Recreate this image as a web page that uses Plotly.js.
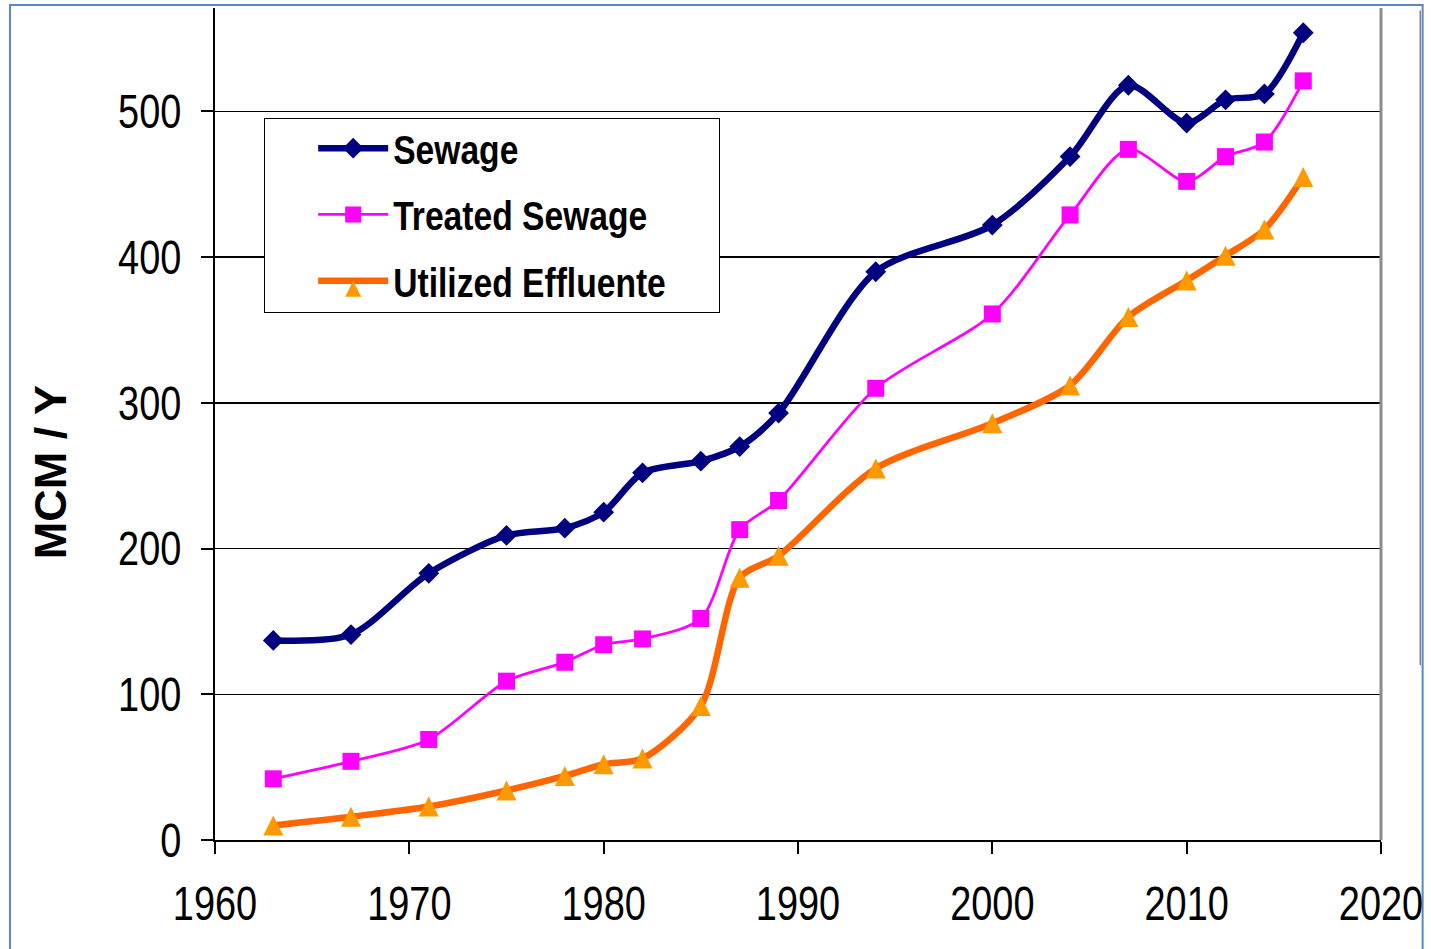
<!DOCTYPE html>
<html>
<head>
<meta charset="utf-8">
<script src="https://cdn.plot.ly/plotly-3.0.1.min.js"></script>
<style>
  html, body { margin: 0; padding: 0; background: #ffffff; }
  #chart { width: 1431px; height: 949px; }
</style>
</head>
<body>
<div id="chart"></div>
<script>
// Years of observation
const years = [1963, 1967, 1971, 1975, 1978, 1980, 1982, 1985, 1987, 1989, 1994, 2000, 2004, 2007, 2010, 2012, 2014, 2016];
// Sewage (MCM/Y)
const sewage = [137, 141, 183, 209, 214, 225, 252, 260, 270, 293, 390, 422, 469, 518, 492, 508, 512, 554];
// Treated Sewage (MCM/Y)
const treated = [42, 54, 69, 109, 122, 134, 138, 152, 213, 233, 310, 361, 429, 474, 452, 469, 479, 521];
// Utilized Effluente (MCM/Y)
const utilized = [10, 16, 23, 34, 44, 52, 56, 92, 180, 195, 255, 286, 312, 359, 384, 401, 419, 455];

const seriesNames = ['Sewage', 'Treated Sewage', 'Utilized Effluente'];
const xTicks = [1960, 1970, 1980, 1990, 2000, 2010, 2020];
const yTicks = [0, 100, 200, 300, 400, 500];

const traces = [
  {
    x: years, y: sewage, name: seriesNames[0], legendgroup: 'g1', type: 'scatter', mode: 'lines+markers',
    line: { color: '#000080', width: 6.5, shape: 'spline', smoothing: 0.8 },
    marker: { symbol: 'diamond', size: 16, color: '#000080' }
  },
  {
    x: years, y: treated, name: seriesNames[1], legendgroup: 'g2', type: 'scatter', mode: 'lines+markers',
    line: { color: '#FF00FF', width: 2.8, shape: 'spline', smoothing: 0.8 },
    marker: { symbol: 'square', size: 17, color: '#FF00FF' }
  },
  {
    x: years, y: utilized, name: seriesNames[2], legendgroup: 'g3', type: 'scatter', mode: 'lines+markers',
    line: { color: '#FF6600', width: 6.5, shape: 'spline', smoothing: 0.8 },
    marker: { symbol: 'arrow-down', angle: 180, standoff: 10, size: 20, color: '#FF9900' }
  }
];

const sans = '"Liberation Sans", Arial, sans-serif';

const layout = {
  width: 1431, height: 949,
  margin: { l: 215, r: 50, t: 8, b: 109 },
  paper_bgcolor: '#ffffff', plot_bgcolor: '#ffffff',
  showlegend: true,
  legend: {
    x: 0.042, y: 0.868, xanchor: 'left', yanchor: 'top',
    bgcolor: '#ffffff', bordercolor: '#000000', borderwidth: 1.2,
    font: { family: sans, size: 41, color: '#000000', weight: 'bold' },
    itemwidth: 70,
    tracegroupgap: 10
  },
  xaxis: {
    range: [1960, 2020], tickvals: xTicks, ticktext: xTicks.map(String),
    showgrid: false, zeroline: false,
    showline: true, linecolor: '#000000', linewidth: 2,
    ticks: 'outside', ticklen: 12, tickwidth: 2, tickcolor: '#000000',
    tickfont: { family: sans, size: 48, color: '#000000' },
    ticklabelstandoff: 8,
    ticklabeloverflow: 'allow'
  },
  yaxis: {
    range: [0, 571], tickvals: yTicks, ticktext: yTicks.map(String),
    showgrid: true, gridcolor: '#000000', gridwidth: 1.5,
    zeroline: false,
    showline: true, linecolor: '#000000', linewidth: 2,
    ticks: 'outside', ticklen: 12, tickwidth: 2, tickcolor: '#000000',
    tickfont: { family: sans, size: 48, color: '#000000' },
    ticklabelstandoff: 10
  },
  annotations: [
    { text: 'MCM / Y', xref: 'paper', yref: 'paper', x: -0.1415, y: 0.442, xanchor: 'center', yanchor: 'middle',
      textangle: -90, showarrow: false, font: { family: sans, size: 45, color: '#000000', weight: 'bold' } }
  ],
  shapes: [
    { type: 'line', xref: 'paper', yref: 'paper', x0: 1, x1: 1, y0: 0, y1: 1, line: { color: '#8c8c8c', width: 3 } },
    { type: 'rect', xref: 'paper', yref: 'paper', x0: -0.1758, x1: 1.0357, y0: -0.2, y1: 1.0036, line: { color: '#5b87c5', width: 2 }, fillcolor: 'rgba(0,0,0,0)', layer: 'below' },
    { type: 'line', xref: 'paper', yref: 'paper', x0: 1.0336, x1: 1.0336, y0: 0.21, y1: 0.997, line: { color: '#444444', width: 1 } }
  ]
};

function squeeze(selector, f) {
  document.querySelectorAll(selector).forEach(function (t) {
    const ax = parseFloat(t.getAttribute('x') || '0');
    const tr = t.getAttribute('transform') || '';
    t.setAttribute('transform', tr + ' translate(' + ax + ',0) scale(' + f + ',1) translate(' + (-ax) + ',0)');
  });
}

function shiftLegendItems(dx, dy) {
  document.querySelectorAll('.legend g.traces').forEach(function (g) {
    const tr = g.getAttribute('transform') || '';
    g.setAttribute('transform', tr + ' translate(' + dx + ',' + dy + ')');
  });
}

function sizeLegendBox(w, h) {
  const bg = document.querySelector('.legend rect.bg');
  if (bg) { bg.setAttribute('width', w); bg.setAttribute('height', h); }
}

function centerLegendTriangle() {
  const items = document.querySelectorAll('.legend g.traces');
  if (items.length < 3) return;
  items[2].querySelectorAll('.legendpoints path').forEach(function (p) {
    const tr = p.getAttribute('transform') || '';
    p.setAttribute('transform', tr + ' translate(0,-10)');
  });
}

Plotly.newPlot('chart', traces, layout, { displayModeBar: false, staticPlot: true }).then(function () {
  squeeze('g.xtick text', 0.79);
  squeeze('g.ytick text', 0.79);
  squeeze('.legendtext', 0.82);
  shiftLegendItems(48, -4);
  sizeLegendBox(455, 194);
  centerLegendTriangle();
});
</script>
</body>
</html>
